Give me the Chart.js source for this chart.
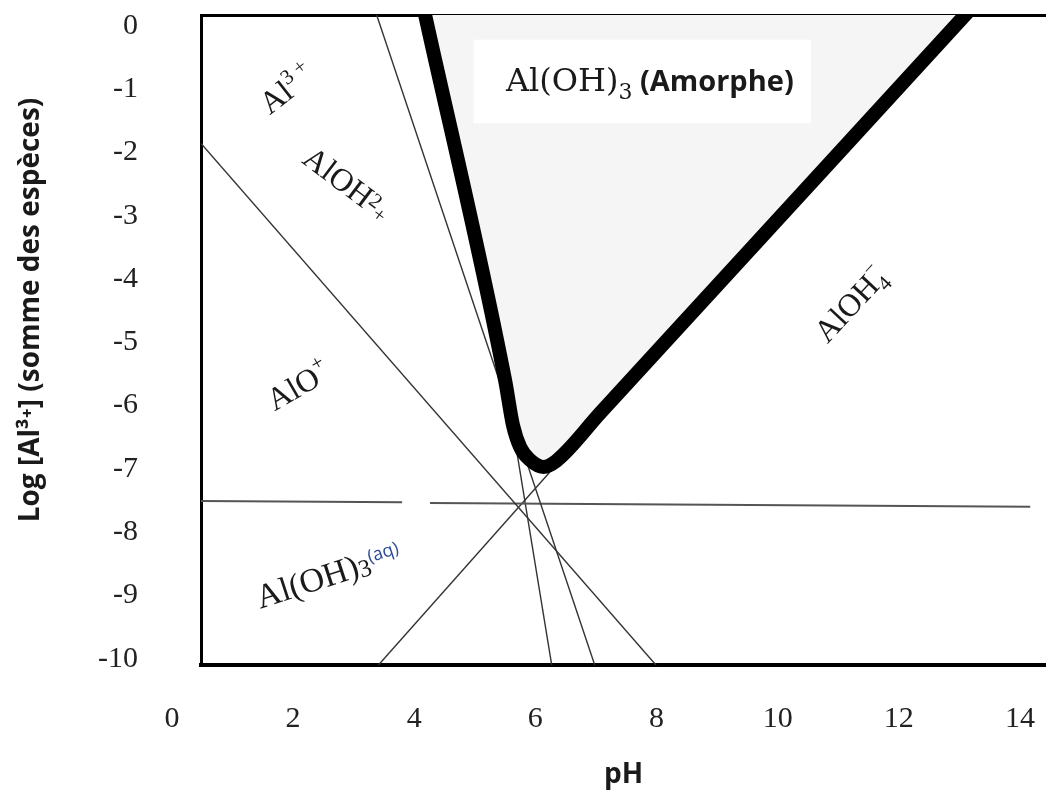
<!DOCTYPE html>
<html>
<head>
<meta charset="utf-8">
<script src="https://cdn.jsdelivr.net/npm/chart.js@4"></script>
<style>
  html, body { margin: 0; padding: 0; background: #fff; }
  #wrap { width: 1046px; height: 801px; position: relative; }
</style>
</head>
<body>
<div id="wrap"><canvas id="diagram"></canvas></div>
<script>
// axes
const phTicks = [0, 2, 4, 6, 8, 10, 12, 14];
const logTicks = [0, -1, -2, -3, -4, -5, -6, -7, -8, -9, -10];

// solubilite Al(OH)3 amorphe (trait epais)
const solPH  = [4.15, 5.50, 5.63, 5.75, 5.91, 6.13, 6.34, 7.07, 13.22];
const solLog = [0.30, -5.60, -6.31, -6.66, -6.86, -6.97, -6.88, -6.12, 0.30];

// droites des especes (traits fins)
const al3PH   = [3.38, 6.98];      // Al3+ / AlOH2+
const al3Log  = [0.17, -10.10];
const aloPH   = [0.48, 7.99];      // AlO+
const aloLog  = [-1.86, -10.10];
const aqPH    = [0.48, 3.80, 3.81, 4.26, 14.17];   // Al(OH)3(aq)
const aqLog   = [-7.51, -7.53, null, -7.54, -7.60];
const ohPH    = [3.41, 6.24];      // AlOH4- (pente +1)
const ohLog   = [-10.10, -7.05];
const alohPH  = [6.27, 5.50];      // AlOH2+ (pente -3)
const alohLog = [-10.10, -5.60];

const pts = (xs, ys) => xs.map((x, i) => ({ x: x, y: ys[i] }));

const serif = '"Liberation Serif", "Times New Roman", serif';
const sans = '"Open Sans", "Noto Sans", sans-serif';

// etiquettes dans le diagramme
const labels = [
  { ph: 1.89, log: -0.99, rot: -38, parts: [
    { t: 'Al', font: '32px ' + serif },
    { t: '3 +', font: '21px ' + serif, dy: -13 }] },
  { ph: 2.90, log: -2.49, rot: 37, parts: [
    { t: 'AlOH', font: '32px ' + serif },
    { t: '2', font: '21px ' + serif, dy: -7 },
    { t: '+', font: '21px ' + serif, dy: 2 }] },
  { ph: 2.08, log: -5.68, rot: -30, parts: [
    { t: 'AlO', font: '32px ' + serif },
    { t: '+', font: '21px ' + serif, dy: -14 }] },
  { ph: 2.58, log: -8.68, rot: -18, parts: [
    { t: 'Al(OH)', font: '34px ' + serif },
    { t: '3', font: '25px ' + serif, dy: 2 },
    { t: '(aq)', font: '18px ' + sans, dy: -10, color: '#2a4a9a' }] },
  { ph: 11.19, log: -4.40, rot: -47, parts: [
    { t: 'AlOH', font: '32px ' + serif },
    { t: '\u2212', font: '20px ' + serif, dy: -15, hold: true },
    { t: '4', font: '21px ' + serif, dy: 7 }] },
  { ph: 7.89, log: -0.86, rot: 0, parts: [
    { t: 'Al(OH)', font: '32px "DejaVu Serif", serif' },
    { t: '3', font: '22px "DejaVu Serif", serif', dy: 8 },
    { t: ' (Amorphe)', font: 'bold 29px ' + sans }] }
];

// cadre blanc de l'etiquette Al(OH)3 (Amorphe)
const boxPH = [4.98, 10.55];
const boxLog = [-0.22, -1.54];

function drawRich(ctx, lab, cx, cy) {
  let total = 0;
  lab.parts.forEach(p => {
    ctx.font = p.font;
    p.w = ctx.measureText(p.t).width;
    if (!p.hold) total += p.w;
  });
  ctx.save();
  ctx.translate(cx, cy);
  ctx.rotate(lab.rot * Math.PI / 180);
  ctx.textBaseline = 'alphabetic';
  ctx.textAlign = 'left';
  let x = -total / 2;
  lab.parts.forEach(p => {
    ctx.font = p.font;
    ctx.fillStyle = p.color || '#1a1a1a';
    ctx.fillText(p.t, x, 11 + (p.dy || 0));
    if (!p.hold) x += p.w;
  });
  ctx.restore();
}

const decor = {
  id: 'decor',
  beforeDatasetsDraw(chart) {
    const { ctx, scales: { x, y } } = chart;
    const x0 = x.getPixelForValue(boxPH[0]), x1 = x.getPixelForValue(boxPH[1]);
    const y0 = y.getPixelForValue(boxLog[0]), y1 = y.getPixelForValue(boxLog[1]);
    ctx.save();
    ctx.fillStyle = '#ffffff';
    ctx.fillRect(x0, y0, x1 - x0, y1 - y0);
    ctx.restore();
  },
  afterDraw(chart) {
    const { ctx, scales: { x, y }, chartArea } = chart;
    labels.forEach(l => drawRich(ctx, l, x.getPixelForValue(l.ph), y.getPixelForValue(l.log)));
    // titre de l'axe vertical
    ctx.save();
    ctx.translate(31, (chartArea.top + chartArea.bottom) / 2 - 30);
    ctx.rotate(-Math.PI / 2);
    ctx.font = 'bold 28px ' + sans;
    ctx.fillStyle = '#1a1a1a';
    ctx.textAlign = 'center';
    ctx.textBaseline = 'middle';
    ctx.fillText('Log [Al\u00b3\u207a] (somme des esp\u00e8ces)', 0, 0);
    ctx.restore();
  }
};

// pas de marge automatique autour de la zone de trace
const noPad = s => { s.paddingTop = 0; s.paddingBottom = 0; s.paddingLeft = 0; s.paddingRight = 0; };

const thin = (data, color, width) => ({
  data: data, borderColor: color, borderWidth: width, pointRadius: 0,
  fill: false, tension: 0, spanGaps: false, clip: 0
});

new Chart(document.getElementById('diagram'), {
  type: 'line',
  data: {
    datasets: [
      {
        data: pts(solPH, solLog), borderColor: '#000', borderWidth: 14,
        borderJoinStyle: 'round', borderCapStyle: 'butt',
        cubicInterpolationMode: 'monotone', pointRadius: 0,
        fill: 'end', backgroundColor: '#f5f5f5', clip: 0
      },
      thin(pts(al3PH, al3Log), '#333333', 1.4),
      thin(pts(aloPH, aloLog), '#333333', 1.4),
      thin(pts(aqPH, aqLog), '#555555', 2),
      thin(pts(ohPH, ohLog), '#333333', 1.4),
      thin(pts(alohPH, alohLog), '#333333', 1.4)
    ]
  },
  options: {
    responsive: true,
    maintainAspectRatio: false,
    animation: false,
    events: [],
    layout: { padding: { top: 15, right: 0, bottom: 0, left: 0 } },
    plugins: {
      legend: { display: false },
      tooltip: { enabled: false },
      filler: { drawTime: 'beforeDatasetsDraw' }
    },
    scales: {
      x: {
        type: 'linear', position: 'bottom', min: 0.48, max: 14.43,
        afterBuildTicks: s => { s.ticks = phTicks.map(v => ({ value: v })); },
        afterFit: s => { s.height = 136; noPad(s); },
        grid: { display: false, drawTicks: false },
        border: { display: true, color: '#000', width: 4 },
        ticks: { autoSkip: false, maxRotation: 0, padding: 36, color: '#222',
                 font: { family: serif, size: 30 } },
        title: { display: true, text: 'pH', color: '#1a1a1a',
                 font: { family: sans, size: 28, weight: 'bold' },
                 padding: { top: 0, bottom: 9 } }
      },
      xTop: {
        type: 'linear', position: 'top', min: 0.48, max: 14.43,
        afterFit: s => { s.height = 0; noPad(s); },
        grid: { display: false, drawTicks: false },
        border: { display: true, color: '#000', width: 3 },
        ticks: { display: false }
      },
      y: {
        type: 'linear', min: -10.10, max: 0.17,
        afterBuildTicks: s => { s.ticks = logTicks.map(v => ({ value: v })); },
        afterFit: s => { s.width = 201; noPad(s); },
        grid: { display: false, drawTicks: false },
        border: { display: true, color: '#000', width: 3 },
        ticks: { autoSkip: false, padding: 63, color: '#222',
                 font: { family: serif, size: 30 } }
      }
    }
  },
  plugins: [decor]
});
</script>
</body>
</html>
